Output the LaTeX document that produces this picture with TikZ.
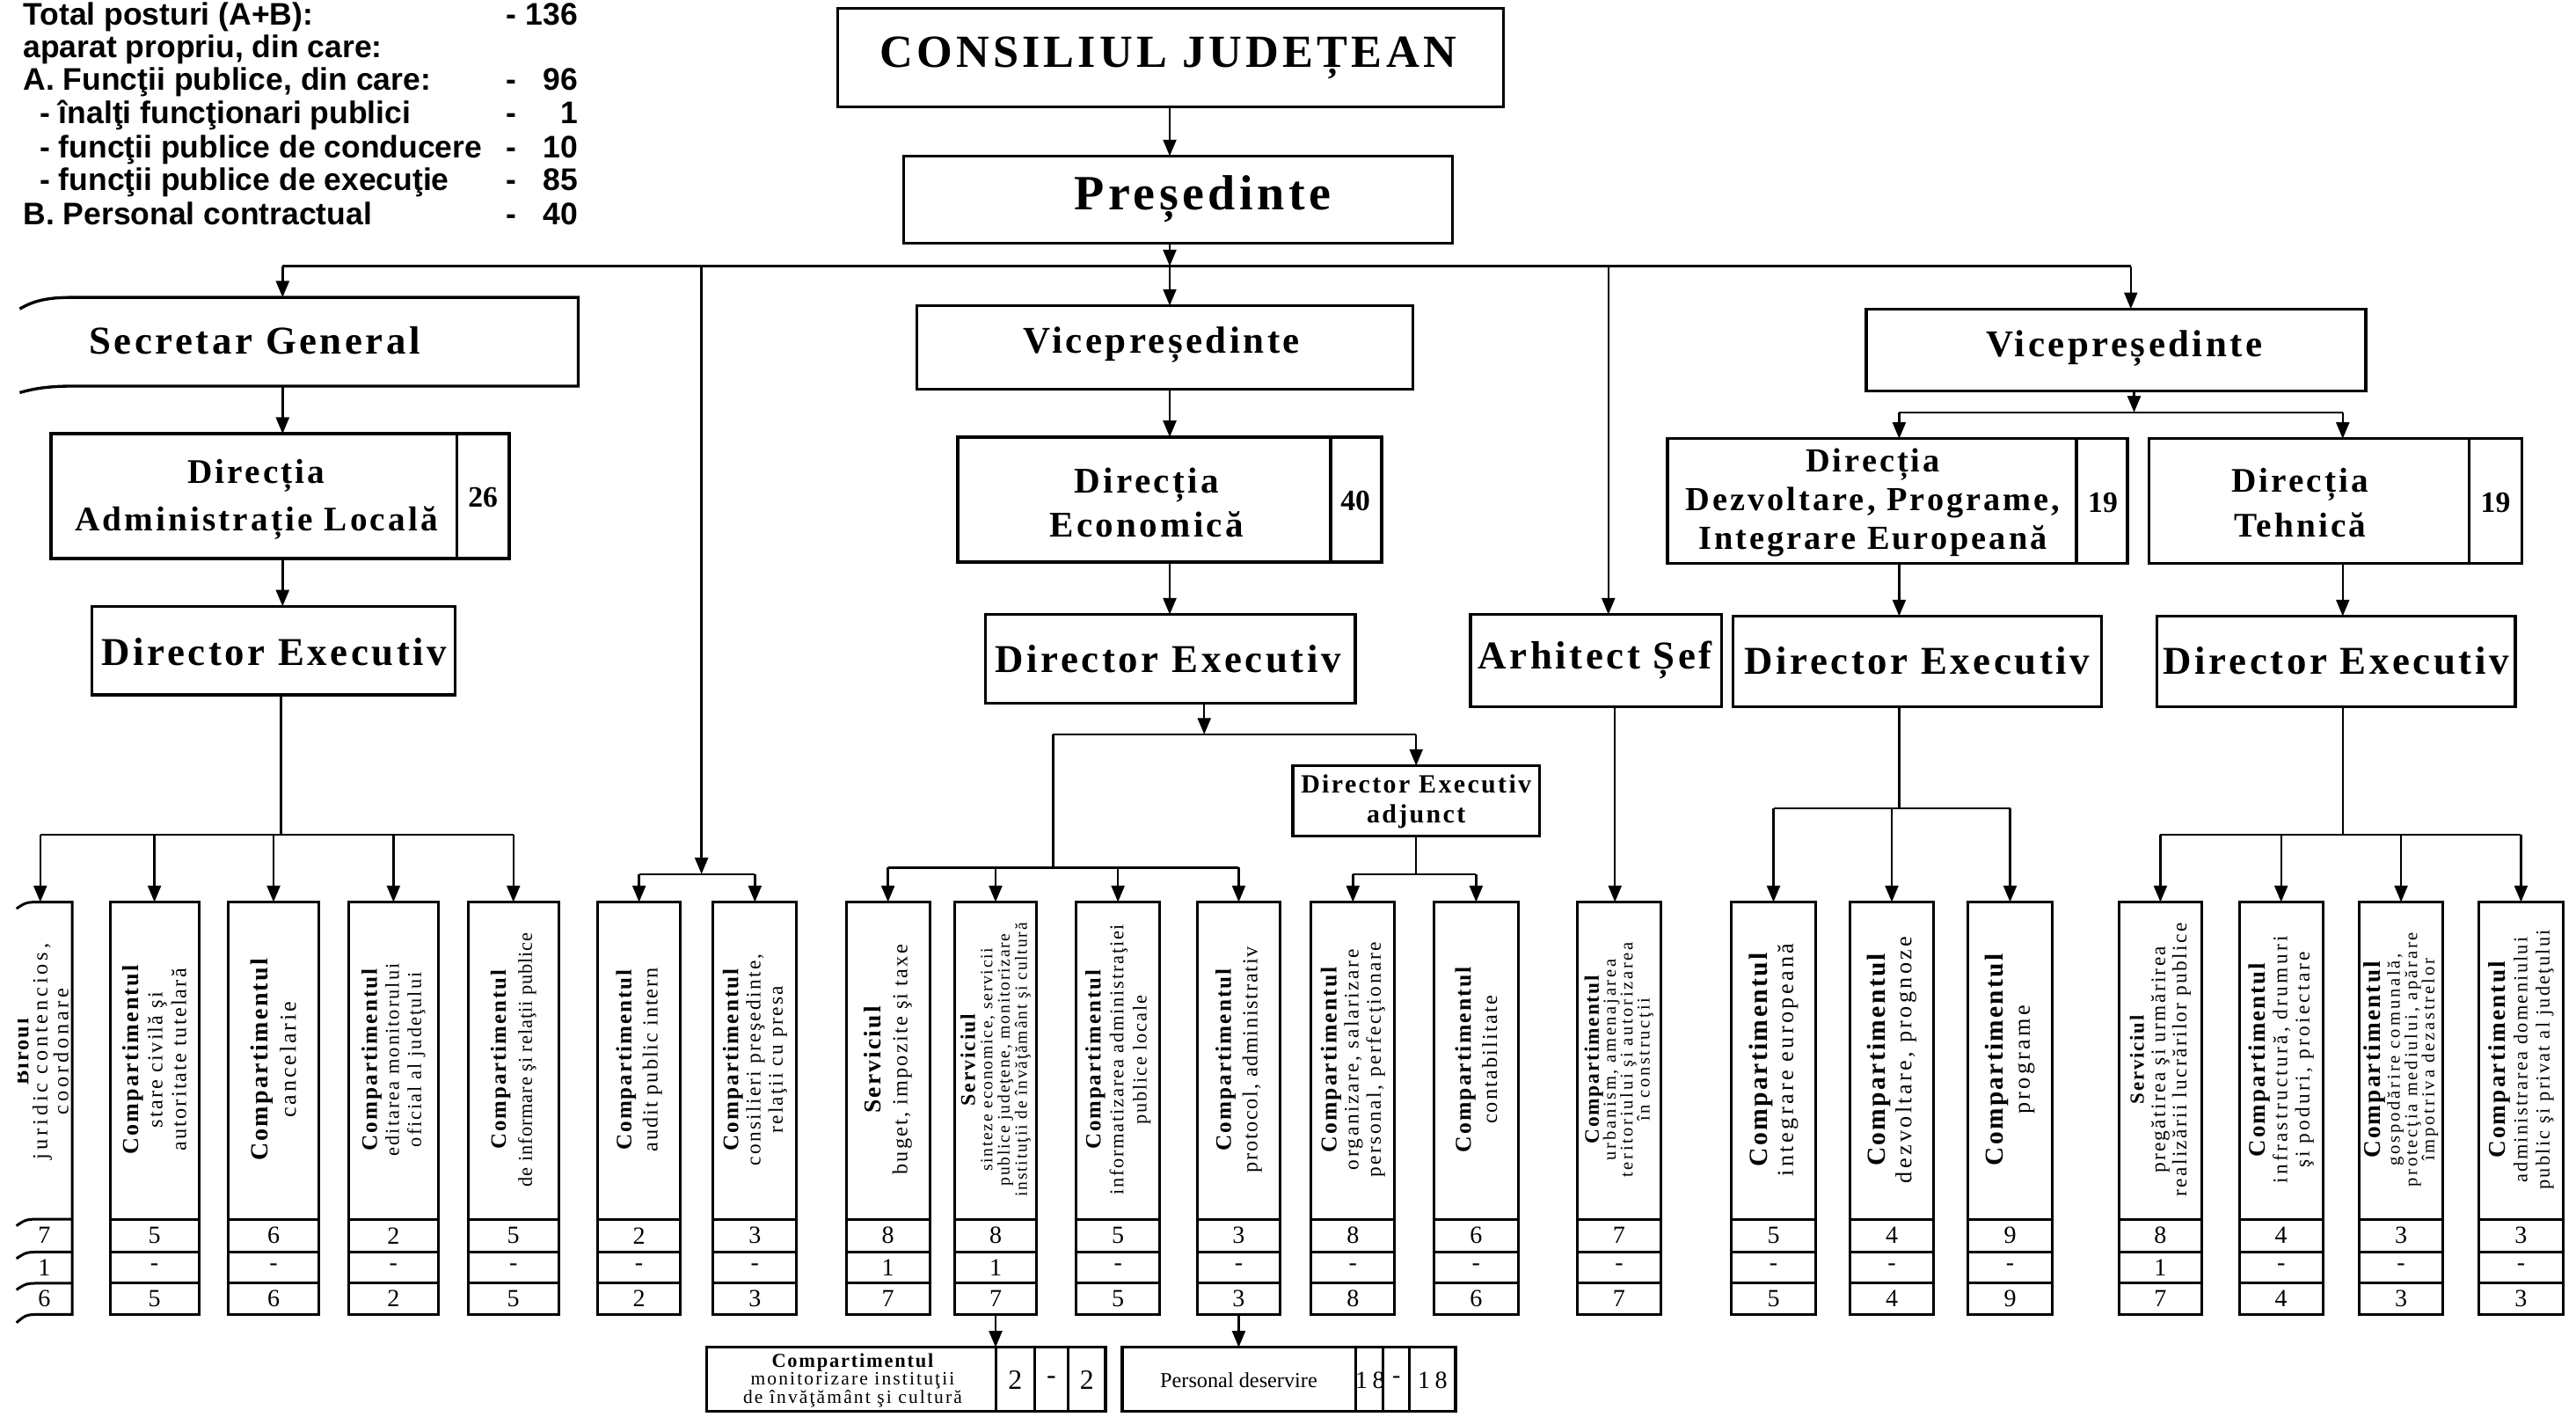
\documentclass[tikz,border=0pt]{standalone}
\usepackage{fontspec}
\setmainfont{Liberation Serif}
\newfontfamily\bxf{Liberation Serif}
\newfontfamily\hdf[LetterSpace=8]{Liberation Serif}
\newfontfamily\sansf{Liberation Sans}
\usetikzlibrary{arrows.meta}
\newcommand\vfnt[3]{\bxf\fontsize{#1}{#2}\selectfont\addfontfeatures{LetterSpace=#3}}
\newcommand\hbold[2]{{\fontsize{#1}{#1}\selectfont\bfseries\addfontfeatures{LetterSpace=8}#2}}
\newcommand\hdfnt[2]{\hdf\bfseries\fontsize{#1}{#2}\selectfont}
\newcommand\compbox[8]{%
 \node[cbx, minimum width={#3-#2}, anchor=north west] (#1) at (#2,549) {};
 \draw[cline] (#2,742) -- (#3,742) (#2,762) -- (#3,762) (#2,781) -- (#3,781);
 \node[num] (#1a) at ({(#2+#3)/2},752) {#4};
 \node[num] (#1b) at ({(#2+#3)/2},771.5) {#5};
 \node[num] (#1c) at ({(#2+#3)/2},790.5) {#6};
 \node[vtxt, font=#7] (#1t) at ({(#2+#3)/2},645) {#8};
}
\begin{document}
\begin{tikzpicture}[x=1pt,y=-1pt,
 hbox/.style={draw,line width=1.8pt,inner sep=0pt,outer sep=0pt},
 ghost/.style={inner sep=0pt,outer sep=0pt},
 conn/.style={line width=1.3pt},
 arr/.style={conn,-{Triangle[length=10pt,width=8pt]}},
 cline/.style={line width=1.6pt},
 cbx/.style={draw,line width=1.6pt,inner sep=0pt,outer sep=0pt,minimum height=251pt},
 num/.style={inner sep=0pt,font=\bxf\fontsize{15}{15}\selectfont},
 vtxt/.style={rotate=90,align=center,inner sep=0pt},
 lbl/.style={inner sep=0pt},
 sumf/.style={inner sep=0pt,text height=14pt,text depth=4pt,font=\sansf\bfseries\fontsize{19}{19}\selectfont},
 txt/.style={sumf,anchor=west},
 val/.style={sumf,anchor=east},
 dsh/.style={sumf},
]
\useasboundingbox (0,0) rectangle (1568,862);

% ---------- summary text ----------
\node[txt] (t1) at (14,10) {Total posturi (A+B):};
\node[txt] (t2) at (14,30) {aparat propriu, din care:};
\node[txt] (t3) at (14,50) {A. Funcţii publice, din care:};
\node[txt] (t4) at (24,70) {- înalţi funcţionari publici};
\node[txt] (t5) at (24,91) {- funcţii publice de conducere};
\node[txt] (t6) at (24,111) {- funcţii publice de execuţie};
\node[txt] (t7) at (14,132) {B. Personal contractual};
\node[dsh] (d1) at (311,10) {-};
\node[dsh] (d3) at (311,50) {-};
\node[dsh] (d4) at (311,70) {-};
\node[dsh] (d5) at (311,91) {-};
\node[dsh] (d6) at (311,111) {-};
\node[dsh] (d7) at (311,132) {-};
\node[val] (v1n) at (352,10) {136};
\node[val] (v3n) at (352,50) {96};
\node[val] (v4n) at (352,70) {1};
\node[val] (v5n) at (352,91) {10};
\node[val] (v6n) at (352,111) {85};
\node[val] (v7n) at (352,132) {40};

% ---------- upper boxes ----------
\node[hbox,minimum width=405pt,minimum height=60pt] (cj) at (712.5,35) {};
\node[lbl,font=\hdfnt{28}{28}] (cjt) at (711,35) {CONSILIUL JUDEȚEAN};
\node[hbox,minimum width=334pt,minimum height=53pt] (pres) at (717,121.5) {};
\node[lbl,font=\hdfnt{30}{30}] (prest) at (732,121) {Președinte};

\node[ghost,minimum width=341pt,minimum height=54pt] (sg) at (181.5,208) {};
\draw[line width=1.8pt] (12,188) .. controls (22,182) and (32,181) .. (45,181) -- (352,181) -- (352,235) -- (45,235) .. controls (32,235) and (22,236) .. (12,239);
\node[lbl,font=\hdfnt{24}{24}] (sgt) at (155,207) {Secretar General};

\node[hbox,minimum width=279pt,minimum height=76pt] (dal) at (170.5,302) {};
\draw[line width=1.8pt] (278,264) -- (278,340);
\node[lbl,font=\hdfnt{21}{29},align=center] (dalt) at (156,304) {Direcția\\Administrație Locală};
\node[lbl,font=\bxf\bfseries\fontsize{18}{18}\selectfont] (daln) at (294,303) {26};

\node[hbox,minimum width=221pt,minimum height=54pt] (de1) at (166.5,396) {};
\node[lbl,font=\hdfnt{24}{24}] (de1t) at (167,397) {Director Executiv};

\node[hbox,minimum width=302pt,minimum height=51pt] (v1) at (709,211.5) {};
\node[lbl,font=\hdfnt{23}{23}] (v1t) at (707,210) {Vicepreședinte};

\node[hbox,minimum width=258pt,minimum height=76pt] (dire) at (712,304) {};
\draw[line width=1.8pt] (810,266) -- (810,342);
\node[lbl,font=\hdfnt{22}{27},align=center] (diret) at (698,306) {Direcția\\Economică};
\node[lbl,font=\bxf\bfseries\fontsize{18}{18}\selectfont] (diren) at (825,305) {40};

\node[hbox,minimum width=225pt,minimum height=54pt] (de2) at (712.5,401) {};
\node[lbl,font=\hdfnt{24}{24}] (de2t) at (711,401) {Director Executiv};

\node[hbox,minimum width=150pt,minimum height=43pt] (adj) at (862,487.5) {};
\node[lbl,font=\hdfnt{16}{18},align=center] (adjt) at (862,488) {Director Executiv\\adjunct};

\node[hbox,minimum width=153pt,minimum height=56pt] (arh) at (971.5,402) {};
\node[lbl,font=\hdfnt{24}{24}] (arht) at (971,402) {Arhitect Șef};

\node[hbox,minimum width=304pt,minimum height=50pt] (v2) at (1288,213) {};
\node[lbl,font=\hdfnt{23}{23}] (v2t) at (1293,212) {Vicepreședinte};

\node[hbox,minimum width=280pt,minimum height=76pt] (dd) at (1155,305) {};
\draw[line width=1.8pt] (1264,267) -- (1264,343);
\node[lbl,font=\hdfnt{20.5}{23.5},align=center] (ddt) at (1140,306) {Direcția\\Dezvoltare, Programe,\\Integrare Europeană};
\node[lbl,font=\bxf\bfseries\fontsize{18}{18}\selectfont] (ddn) at (1280,306) {19};

\node[hbox,minimum width=227pt,minimum height=76pt] (dt) at (1421.5,305) {};
\draw[line width=1.8pt] (1503,267) -- (1503,343);
\node[lbl,font=\hdfnt{21}{27},align=center] (dtt) at (1400,306) {Direcția\\Tehnică};
\node[lbl,font=\bxf\bfseries\fontsize{18}{18}\selectfont] (dtn) at (1519,306) {19};

\node[hbox,minimum width=224pt,minimum height=55pt] (de3) at (1167,402.5) {};
\node[lbl,font=\hdfnt{24}{24}] (de3t) at (1167,402) {Director Executiv};
\node[hbox,minimum width=218pt,minimum height=55pt] (de4) at (1422,402.5) {};
\node[lbl,font=\hdfnt{24}{24}] (de4t) at (1422,402) {Director Executiv};

% ---------- bottom boxes ----------
\node[ghost,minimum width=39pt,minimum height=251pt,anchor=north west] (b1) at (5,549) {};
\draw[line width=1.6pt] (10,553) .. controls (16,549) .. (26,549) -- (44,549) -- (44,800) -- (26,800) .. controls (16,800) .. (10,805);
\draw[cline] (10,746) .. controls (16,742) .. (26,742) -- (44,742);
\draw[cline] (10,766) .. controls (16,762) .. (26,762) -- (44,762);
\draw[cline] (10,785) .. controls (16,781) .. (26,781) -- (44,781);
\node[num] (b1a) at (27,752) {7};
\node[num] (b1b) at (27,771.5) {1};
\node[num] (b1c) at (27,790.5) {6};
\begin{scope}
\clip (11,549) rectangle (44,742);
\node[vtxt,font=\vfnt{13}{11.5}{16}] (b1t) at (25,640) {\hbold{13}{Biroul}\\juridic contencios,\\coordonare};
\end{scope}

\compbox{b2}{67}{121}{5}{-}{5}{\vfnt{13}{14.5}{9}}{\hbold{14}{Compartimentul}\\stare civilă şi\\autoritate tutelară}
\compbox{b3}{139}{194}{6}{-}{6}{\vfnt{14}{17}{11}}{\hbold{15}{Compartimentul}\\cancelarie}
\compbox{b4}{212}{267}{2}{-}{2}{\vfnt{12}{13.5}{9}}{\hbold{13.5}{Compartimentul}\\editarea monitorului\\oficial al judeţului}
\compbox{b5}{285}{340}{5}{-}{5}{\vfnt{12}{16}{4}}{\hbold{13.3}{Compartimentul}\\de informare şi relaţii publice}
\compbox{b6}{364}{414}{2}{-}{2}{\vfnt{13}{16}{8}}{\hbold{13.4}{Compartimentul}\\audit public intern}
\compbox{b7}{434}{485}{3}{-}{3}{\vfnt{12.5}{13.5}{10}}{\hbold{13.5}{Compartimentul}\\consilieri preşedinte,\\relaţii cu presa}
\compbox{b8}{515}{566}{8}{1}{7}{\vfnt{13}{16}{9}}{\hbold{14.7}{Serviciul}\\buget, impozite şi taxe}
\compbox{b9}{581}{631}{8}{1}{7}{\vfnt{10.5}{10.5}{9}}{\hbold{12.7}{Serviciul}\\sinteze economice, servicii\\publice judeţene, monitorizare\\instituţii de învăţământ şi cultură}
\compbox{b10}{655}{706}{5}{-}{5}{\vfnt{12}{14}{8}}{\hbold{13.3}{Compartimentul}\\informatizarea administraţiei\\publice locale}
\compbox{b11}{729}{779}{3}{-}{3}{\vfnt{13}{16}{7}}{\hbold{13.5}{Compartimentul}\\protocol, administrativ}
\compbox{b12}{798}{849}{8}{-}{8}{\vfnt{12.5}{13.5}{11}}{\hbold{13.75}{Compartimentul}\\organizare, salarizare\\personal, perfecţionare}
\compbox{b13}{873}{924}{6}{-}{6}{\vfnt{13}{16}{9}}{\hbold{13.75}{Compartimentul}\\contabilitate}
\compbox{b14}{960}{1011}{7}{-}{7}{\vfnt{11}{10.3}{13}}{\hbold{12.5}{Compartimentul}\\urbanism, amenajarea\\teritoriului şi autorizarea\\în construcţii}
\compbox{b15}{1054}{1105}{5}{-}{5}{\vfnt{14}{16}{13}}{\hbold{15.9}{Compartimentul}\\integrare europeană}
\compbox{b16}{1126}{1177}{4}{-}{4}{\vfnt{14}{16}{13}}{\hbold{15.8}{Compartimentul}\\dezvoltare, prognoze}
\compbox{b17}{1198}{1249}{9}{-}{9}{\vfnt{14}{16}{13}}{\hbold{15.7}{Compartimentul}\\programe}
\compbox{b18}{1290}{1340}{8}{1}{7}{\vfnt{12.5}{13}{10}}{\hbold{12.2}{Serviciul}\\pregătirea şi urmărirea\\realizării lucrărilor publice}
\compbox{b19}{1363}{1414}{4}{-}{4}{\vfnt{12.5}{13.5}{14}}{\hbold{14.4}{Compartimentul}\\infrastructură, drumuri\\şi poduri, proiectare}
\compbox{b20}{1436}{1487}{3}{-}{3}{\vfnt{11}{10.5}{14}}{\hbold{14.6}{Compartimentul}\\gospodărire comunală,\\protecţia mediului, apărare\\împotriva dezastrelor}
\compbox{b21}{1509}{1560}{3}{-}{3}{\vfnt{12}{13.5}{10}}{\hbold{14.6}{Compartimentul}\\administrarea domeniului\\public şi privat al judeţului}

% ---------- sub boxes ----------
\node[hbox,minimum width=243pt,minimum height=39pt] (mon) at (551.5,839.5) {};
\draw[cline] (606,820) -- (606,859) (630,820) -- (630,859) (650,820) -- (650,859);
\node[lbl,align=center,font=\vfnt{11.5}{11}{10}] (mont) at (519,840) {\hbold{12}{Compartimentul}\\monitorizare instituţii\\de învăţământ şi cultură};
\node[lbl,font=\bxf\fontsize{17}{17}\selectfont] (mon1) at (618,840) {2};
\node[lbl,font=\bxf\fontsize{17}{17}\selectfont] (mon2) at (640,840) {-};
\node[lbl,font=\bxf\fontsize{17}{17}\selectfont] (mon3) at (661.5,840) {2};

\node[hbox,minimum width=203pt,minimum height=39pt] (pers) at (784.5,839.5) {};
\draw[cline] (825,820) -- (825,859) (842,820) -- (842,859) (858,820) -- (858,859);
\node[lbl,font=\vfnt{13}{13}{0}] (perst) at (754,840) {Personal deservire};
\node[lbl,font=\vfnt{15}{15}{20}] (pers1) at (834,840) {18};
\node[lbl,font=\bxf\fontsize{15}{15}\selectfont] (pers2) at (850,840) {-};
\node[lbl,font=\vfnt{15}{15}{20}] (pers3) at (872,840) {18};

% ---------- connectors ----------
\coordinate (hb) at (712,162);
\coordinate (hL) at (172,162);
\coordinate (hA) at (427,162);
\coordinate (hArh) at (979,162);
\coordinate (hR) at (1297,162);
\draw[arr] (hb |- cj.south) -- (hb |- pres.north);
\draw[arr] (hb |- pres.south) -- (hb);
\draw[conn] (hL) -- (hR);
\draw[arr] (hL) -- (hL |- sg.north);
\draw[arr] (hb) -- (hb |- v1.north);
\draw[arr] (hArh) -- (hArh |- arh.north);
\draw[arr] (hR) -- (hR |- v2.north);

\draw[arr] (hL |- sg.south) -- (hL |- dal.north);
\draw[arr] (hL |- dal.south) -- (hL |- de1.north);
\coordinate (lb) at (171,508);
\draw[conn] (lb |- de1.south) -- (lb);
\draw[conn] (b1.north |- lb) -- (b5.north |- lb);
\foreach \b in {b1,b2,b3,b4,b5} {\draw[arr] (\b.north |- lb) -- (\b.north);}

\coordinate (aub) at (427,532);
\draw[arr] (hA) -- (aub);
\draw[conn] (b6.north |- aub) -- (b7.north |- aub);
\foreach \b in {b6,b7} {\draw[arr] (\b.north |- aub) -- (\b.north);}

\draw[arr] (hb |- v1.south) -- (hb |- dire.north);
\draw[arr] (hb |- dire.south) -- (hb |- de2.north);
\coordinate (eb) at (733,447);
\coordinate (ebL) at (641,447);
\coordinate (ebR) at (862,447);
\coordinate (eb2) at (641,528);
\draw[arr] (eb |- de2.south) -- (eb);
\draw[conn] (ebL) -- (ebR);
\draw[conn] (ebL) -- (eb2);
\draw[conn] (b8.north |- eb2) -- (b11.north |- eb2);
\foreach \b in {b8,b9,b10,b11} {\draw[arr] (\b.north |- eb2) -- (\b.north);}
\draw[arr] (ebR) -- (ebR |- adj.north);
\coordinate (ab) at (862,532);
\draw[conn] (adj.south) -- (ab);
\draw[conn] (b12.north |- ab) -- (b13.north |- ab);
\foreach \b in {b12,b13} {\draw[arr] (\b.north |- ab) -- (\b.north);}
\draw[arr] (b9.south) -- (b9.south |- mon.north);
\draw[arr] (b11.south) -- (b11.south |- pers.north);

\coordinate (ax) at (983,0);
\draw[arr] (arh.south -| ax) -- (b14.north -| ax);

\coordinate (vb) at (1299,251);
\coordinate (vbL) at (1156,251);
\coordinate (vbR) at (1426,251);
\draw[arr] (vb |- v2.south) -- (vb);
\draw[conn] (vbL) -- (vbR);
\draw[arr] (vbL) -- (vbL |- dd.north);
\draw[arr] (vbR) -- (vbR |- dt.north);
\draw[arr] (vbL |- dd.south) -- (vbL |- de3.north);
\draw[arr] (vbR |- dt.south) -- (vbR |- de4.north);
\coordinate (d3b) at (1156,492);
\draw[conn] (vbL |- de3.south) -- (d3b);
\draw[conn] (b15.north |- d3b) -- (b17.north |- d3b);
\foreach \b in {b15,b16,b17} {\draw[arr] (\b.north |- d3b) -- (\b.north);}
\coordinate (d4b) at (1426,508);
\draw[conn] (vbR |- de4.south) -- (d4b);
\draw[conn] (b18.north |- d4b) -- (b21.north |- d4b);
\foreach \b in {b18,b19,b20,b21} {\draw[arr] (\b.north |- d4b) -- (\b.north);}
\end{tikzpicture}
\end{document}
